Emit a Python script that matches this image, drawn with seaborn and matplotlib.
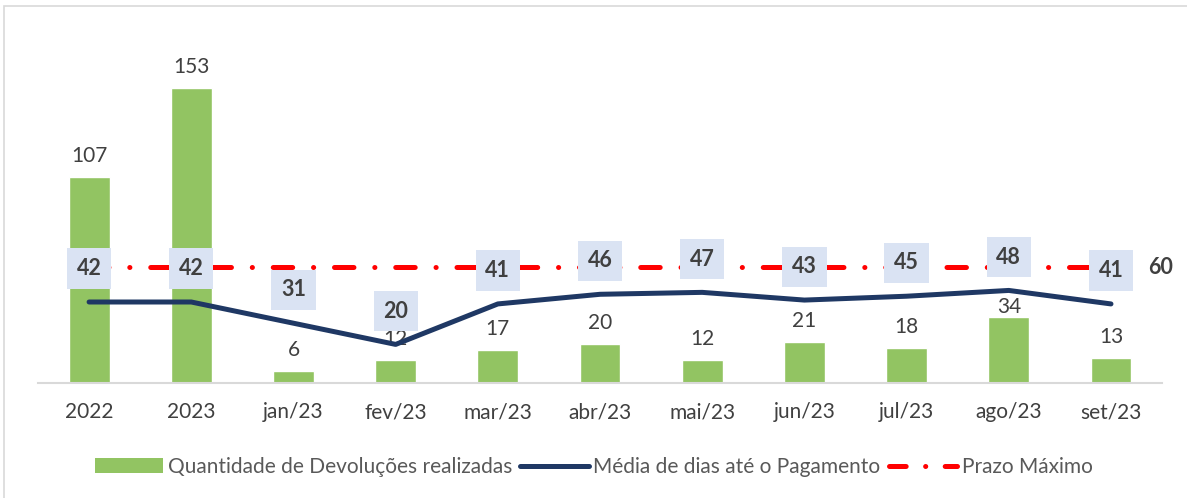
import matplotlib.pyplot as plt
import pandas as pd
import seaborn as sns
from matplotlib.lines import Line2D
from matplotlib.patches import Patch, Rectangle


periodos = ['2022', '2023', 'jan/23', 'fev/23', 'mar/23', 'abr/23', 'mai/23',
            'jun/23', 'jul/23', 'ago/23', 'set/23']
devolucoes = [107, 153, 6, 12, 17, 20, 12, 21, 18, 34, 13]
media_dias = [42, 42, 31, 20, 41, 46, 47, 43, 45, 48, 41]
prazo_maximo = [60, 60, 60, 60, 60, 60, 60, 60, 60, 60, 60]

verde = '#92C462'
azul = '#1F3864'
vermelho = '#FF0000'
cinza_txt = '#404040'

sns.set_style('white')
plt.rcParams['font.family'] = ['Lato', 'DejaVu Sans']
plt.rcParams['lines.scale_dashes'] = False

df = pd.DataFrame({
    'periodo': periodos,
    'pos': list(range(len(periodos))),
    'devolucoes': devolucoes,
    'media': media_dias,
    'prazo': prazo_maximo,
})

fig = plt.figure(figsize=(11.87, 4.98), dpi=100)
ax = fig.add_axes([0.032, 0.231, 0.947, 0.689])

# barras
sns.barplot(data=df, x='periodo', y='devolucoes', color=verde, saturation=1,
            width=0.4, ax=ax, zorder=2)
rotulos = ax.bar_label(ax.containers[0], padding=8, fontsize=15, color=cinza_txt)
# rotulo de ago/23 puxado para baixo da linha, como no original
rotulos[periodos.index('ago/23')].xyann = (0, 0)

# prazo maximo (traço-ponto)
padrao = (0, (14, 15, 0.1, 15))
sns.lineplot(data=df, x='pos', y='prazo', color=vermelho, linewidth=3.6,
             linestyle=padrao, dash_capstyle='round', ax=ax, zorder=3)
ax.annotate('60', xy=(df['pos'].iloc[-1], prazo_maximo[-1]), xytext=(27, 0),
            textcoords='offset points', ha='left', va='center',
            fontsize=15.5, fontweight='bold', color=cinza_txt)

# media de dias
sns.lineplot(data=df, x='pos', y='media', color=azul, linewidth=3.6,
             solid_capstyle='round', solid_joinstyle='round', ax=ax, zorder=4)
for p, v in zip(df['pos'], media_dias):
    ax.annotate(str(v), xy=(p, v), xytext=(0, 24), textcoords='offset points',
                ha='center', va='center', fontsize=15.5, fontweight='bold',
                color=cinza_txt, zorder=6,
                bbox=dict(boxstyle='square,pad=0.45', fc='#DAE3F3', ec='none'))

# eixos no estilo excel
ax.set_xlim(-0.5, len(periodos) - 0.5)
ax.set_ylim(0, 178)
ax.set_xlabel('')
ax.set_ylabel('')
ax.set_yticks([])
ax.set_xticks(df['pos'])
ax.set_xticklabels(periodos, fontsize=15, color=cinza_txt)
ax.set_xticks([p - 0.5 for p in range(len(periodos) + 1)], minor=True)
ax.tick_params(axis='x', which='major', length=0, pad=14)
ax.tick_params(axis='x', which='minor', length=8, width=1.5, color='#D9D9D9')
for s in ['top', 'right', 'left']:
    ax.spines[s].set_visible(False)
ax.spines['bottom'].set_color('#D9D9D9')
ax.spines['bottom'].set_linewidth(1.5)

handles = [
    Patch(facecolor=verde, edgecolor='none'),
    Line2D([], [], color=azul, linewidth=3.6, solid_capstyle='round'),
    Line2D([], [], color=vermelho, linewidth=3.6, linestyle=(0, (12, 14, 0.1, 14)),
           dash_capstyle='round'),
]
labels = ['Quantidade de Devoluções realizadas', 'Média de dias até o Pagamento',
          'Prazo Máximo']
fig.legend(handles, labels, loc='center', bbox_to_anchor=(0.5, 0.062), ncol=3,
           frameon=False, fontsize=15, handlelength=3.3, handleheight=0.75,
           handletextpad=0.2, columnspacing=0.4, labelcolor='#595959')

fig.patches.append(Rectangle((4 / 1187, -0.1), 1.2, 1.1 - 6 / 498,
                             transform=fig.transFigure, fill=False,
                             edgecolor='#D9D9D9', linewidth=1.2))

fig.savefig('out.png', dpi=100)
